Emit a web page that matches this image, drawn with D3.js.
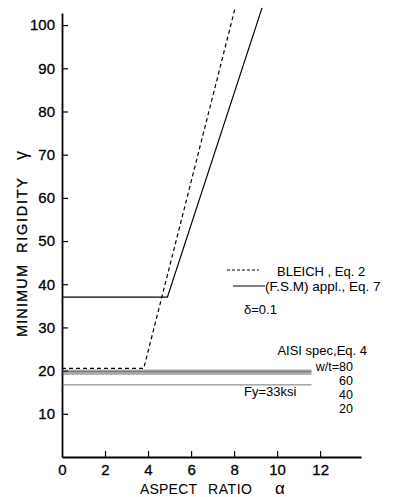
<!DOCTYPE html>
<html><head><meta charset="utf-8">
<script src="https://cdn.jsdelivr.net/npm/d3@7"></script>
<style>body{margin:0;background:#fff}svg{display:block}text{font-family:"Liberation Sans",Arial,sans-serif;fill:#000}</style>
</head><body><div id="chart"></div>
<script>
const xTicks = [0, 2, 4, 6, 8, 10, 12];
const yTicks = [10, 20, 30, 40, 50, 60, 70, 80, 90, 100];
const bleichX = [0, 3.8, 8.05];
const bleichY = [20.5, 20.5, 104];
const fsmX = [0, 4.9, 9.3];
const fsmY = [37, 37, 104];
const aisiLabels = ["w/t=80", "60", "40", "20"];
const aisiValues = [20.1, 19.8, 19.5, 19.2];
const aisiEnd = 11.6;
const fyValue = 16.7;

const W = 398, H = 497;
const svg = d3.select("#chart").append("svg").attr("width", W).attr("height", H);
const x = d3.scaleLinear().domain([0, 13.9]).range([62, 361]);
const y = d3.scaleLinear().domain([0, 102.8]).range([457, 13]);

const yAxis = d3.axisLeft(y).tickValues(yTicks).tickSize(-6).tickPadding(7).tickSizeOuter(0);
const xAxis = d3.axisBottom(x).tickValues(xTicks).tickSize(-6).tickPadding(7).tickSizeOuter(0);
const gy = svg.append("g").attr("transform", `translate(${x(0)},0)`).call(yAxis);
const gx = svg.append("g").attr("transform", `translate(0,${y(0)})`).call(xAxis);
[gx, gy].forEach(g => {
  g.selectAll("path.domain").attr("stroke", "#000").attr("stroke-width", 1.8);
  g.selectAll(".tick line").attr("stroke", "#000").attr("stroke-width", 1.2);
  g.selectAll("text").attr("font-size", 15).attr("font-family", "Liberation Sans, Arial, sans-serif")
    .attr("fill", "#000").attr("stroke", "#000").attr("stroke-width", 0.3);
});
gx.selectAll(".tick").filter(d => d === 0).select("line").remove();

const line = d3.line().x(d => x(d[0])).y(d => y(d[1]));
svg.append("path").datum(bleichX.map((v, i) => [v, bleichY[i]]))
  .attr("d", line).attr("fill", "none").attr("stroke", "#000").attr("stroke-width", 1.2).attr("stroke-dasharray", "4,3");
svg.append("path").datum(fsmX.map((v, i) => [v, fsmY[i]]))
  .attr("d", line).attr("fill", "none").attr("stroke", "#000").attr("stroke-width", 1.2);
aisiValues.forEach(v => {
  svg.append("path").datum([[0, v], [aisiEnd, v]]).attr("d", line)
    .attr("fill", "none").attr("stroke", "#444").attr("stroke-width", 0.7);
});
svg.append("path").datum([[0, fyValue], [aisiEnd, fyValue]]).attr("d", line)
  .attr("fill", "none").attr("stroke", "#555").attr("stroke-width", 0.8);

// legend
svg.append("line").attr("x1", 227).attr("x2", 259).attr("y1", 270).attr("y2", 270)
  .attr("stroke", "#000").attr("stroke-width", 1).attr("stroke-dasharray", "3,2");
svg.append("text").attr("x", 277).attr("y", 276).attr("font-size", 13).text("BLEICH , Eq. 2");
svg.append("line").attr("x1", 233).attr("x2", 265).attr("y1", 286).attr("y2", 286)
  .attr("stroke", "#000").attr("stroke-width", 1);
svg.append("text").attr("x", 265).attr("y", 291).attr("font-size", 13.5).text("(F.S.M) appl., Eq. 7");
svg.append("text").attr("x", 244).attr("y", 314).attr("font-size", 13).text("δ=0.1");
svg.append("text").attr("x", 367).attr("y", 355).attr("font-size", 13).attr("text-anchor", "end").text("AISI spec,Eq. 4");
const labY = [371, 385, 399, 413];
aisiLabels.forEach((t, i) => {
  svg.append("text").attr("x", 353).attr("y", labY[i]).attr("font-size", 12.5).attr("text-anchor", "end").text(t);
});
svg.append("text").attr("x", 244).attr("y", 396).attr("font-size", 13).text("Fy=33ksi");

// axis titles
svg.append("text").attr("transform", "translate(27,337) rotate(-90)").attr("font-size", 14.5)
  .attr("textLength", 72).attr("lengthAdjust", "spacing")
  .attr("stroke", "#000").attr("stroke-width", 0.3).text("MINIMUM");
svg.append("text").attr("transform", "translate(27,253) rotate(-90)").attr("font-size", 14.5)
  .attr("textLength", 75).attr("lengthAdjust", "spacing")
  .attr("stroke", "#000").attr("stroke-width", 0.3).text("RIGIDITY");
svg.append("text").attr("transform", "translate(27,160) rotate(-90)").attr("font-size", 18).text("γ");
svg.append("text").attr("x", 140).attr("y", 494).attr("font-size", 14)
  .attr("textLength", 57).attr("lengthAdjust", "spacing").text("ASPECT");
svg.append("text").attr("x", 208).attr("y", 494).attr("font-size", 14)
  .attr("textLength", 44).attr("lengthAdjust", "spacing").text("RATIO");
svg.append("text").attr("x", 275).attr("y", 494).attr("font-size", 17).text("α");
</script></body></html>
